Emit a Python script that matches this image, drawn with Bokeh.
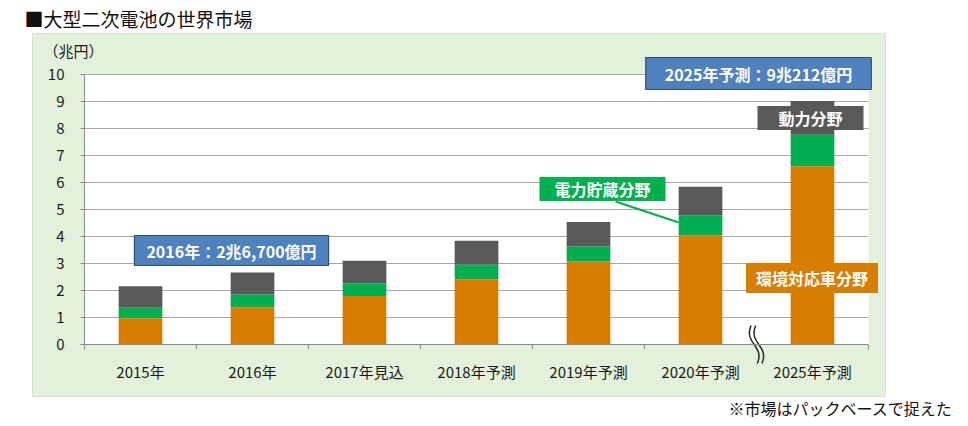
import numpy as np
from bokeh.plotting import figure
from bokeh.models import Range1d, FixedTicker, BoxAnnotation, Label
from bokeh.embed import file_html
from bokeh.resources import INLINE

# ---- data (兆円) ----
categories = ["2015年", "2016年", "2017年見込", "2018年予測", "2019年予測", "2020年予測", "2025年予測"]
env_vehicle = [0.97, 1.38, 1.80, 2.42, 3.07, 4.04, 6.60]   # 環境対応車分野
power_storage = [0.39, 0.47, 0.47, 0.53, 0.56, 0.75, 1.17]  # 電力貯蔵分野
motive_power = [0.80, 0.82, 0.83, 0.89, 0.91, 1.05, 1.25]   # 動力分野
y_ticks = list(range(0, 11))

ORANGE = "#D77D00"
GREEN = "#00B050"
GRAY = "#595959"
BLUE = "#4F81BD"
PANEL = "#E3F0DA"
FONT = "Noto Sans CJK JP"

W, H = 960, 418
# layout geometry: plot area spans 84..868 px horizontally, value 0 at 344 px, 27 px per unit
X0, XS, Y0, YS = 84.0, 112.0, 344.0, 27.0
def xd(px):
    return (px - X0) / XS
def yd(py):
    return (Y0 - py) / YS

x = [i + 0.5 for i in range(len(categories))]
n = len(categories)

p = figure(width=W, height=H, output_backend="svg", toolbar_location=None,
           x_range=Range1d(xd(0), xd(W)), y_range=Range1d(yd(H), yd(0)),
           min_border_left=0, min_border_right=0, min_border_top=0, min_border_bottom=0)
p.outline_line_color = None
p.border_fill_color = "white"
p.background_fill_color = "white"
p.xgrid.visible = False
p.ygrid.visible = False

# green panel and white plot area
p.add_layout(BoxAnnotation(left=xd(32), right=xd(885), top=yd(33), bottom=yd(396),
                           fill_color=PANEL, fill_alpha=1, line_color="#A6A6A6", line_width=1,
                           level="image"))
p.add_layout(BoxAnnotation(left=0, right=n, bottom=0, top=10,
                           fill_color="white", fill_alpha=1, line_color=None, level="image"))

# horizontal grid lines
p.segment(x0=[0] * 10, x1=[n] * 10, y0=y_ticks[1:], y1=y_ticks[1:], line_color="#A6A6A6", line_width=1)

# stacked bars
src = dict(x=x, env=env_vehicle, sto=power_storage, mot=motive_power)
p.vbar_stack(["env", "sto", "mot"], x="x", width=0.39, source=src,
             color=[ORANGE, GREEN, GRAY], line_color=None)

# axes (fixed inside the canvas)
p.yaxis.fixed_location = 0
p.yaxis.bounds = (0, 10)
p.yaxis.ticker = FixedTicker(ticks=y_ticks, minor_ticks=[])
p.yaxis.axis_line_color = "#8C8C8C"
p.yaxis.major_tick_line_color = "#8C8C8C"
p.yaxis.major_tick_out = 4
p.yaxis.major_tick_in = 0
p.yaxis.major_label_standoff = 16
p.yaxis.major_label_text_font = FONT
p.yaxis.major_label_text_font_size = "15px"
p.yaxis.major_label_text_color = "#1A1A1A"

p.xaxis.fixed_location = 0
p.xaxis.bounds = (0, n)
p.xaxis.ticker = FixedTicker(ticks=x, minor_ticks=[0, 1, 2, 3, 4, 5, 7])
p.xaxis.major_label_overrides = {xi: c for xi, c in zip(x, categories)}
p.xaxis.axis_line_color = "#8C8C8C"
p.xaxis.major_tick_line_color = None
p.xaxis.minor_tick_line_color = "#8C8C8C"
p.xaxis.minor_tick_out = 5
p.xaxis.minor_tick_in = 0
p.xaxis.major_label_standoff = 10
p.xaxis.major_label_text_font = FONT
p.xaxis.major_label_text_font_size = "15px"
p.xaxis.major_label_text_color = "#1A1A1A"

# axis break symbol between 2020 and 2025
t = np.linspace(-1, 1, 60)
for off in (-2.3, 2.3):
    xs = 6 + (3.2 * t + 3.0 * np.sin(np.pi * t) + off) / XS
    ys = -0.7 * t
    p.line(x=xs, y=ys, line_color="#262626", line_width=1.5)

# connector for 電力貯蔵分野
p.line(x=[xd(615), 5.305], y=[yd(201), 4.52], line_color=GREEN, line_width=2)

def box_label(text, cx, cy, fill, border=None, pad=(10, 2)):
    p.add_layout(Label(x=xd(cx), y=yd(cy), text=text, text_align="center", text_baseline="middle",
                       text_font=FONT, text_font_style="bold", text_font_size="16px",
                       text_color="white", background_fill_color=fill, background_fill_alpha=1,
                       border_line_color=border, border_line_width=1.2, padding=pad))

box_label("2016年：2兆6,700億円", 231, 250, BLUE, "#2F4B7A", (12, 3))
box_label("2025年予測：9兆212億円", 758, 73, BLUE, "#2F4B7A", (19, 4))
box_label("動力分野", 810, 117.5, GRAY, None, (21, 0))
box_label("電力貯蔵分野", 602, 188.5, GREEN, None, (15, 0))
box_label("環境対応車分野", 811.5, 277.5, ORANGE, None, (10, 3))

# title, unit, footnote
p.add_layout(Label(x=xd(24), y=yd(18), text="■大型二次電池の世界市場",
                   text_font=FONT, text_font_size="19px", text_color="#111111",
                   text_baseline="middle", text_align="left"))
p.add_layout(Label(x=xd(73), y=yd(50), text="（兆円）",
                   text_font=FONT, text_font_size="15px", text_color="#1A1A1A",
                   text_baseline="middle", text_align="center"))
p.add_layout(Label(x=xd(952), y=yd(407), text="※市場はパックベースで捉えた",
                   text_font=FONT, text_font_size="16px", text_color="#111111",
                   text_baseline="middle", text_align="right"))

open("out.html", "w").write(file_html(p, INLINE))
